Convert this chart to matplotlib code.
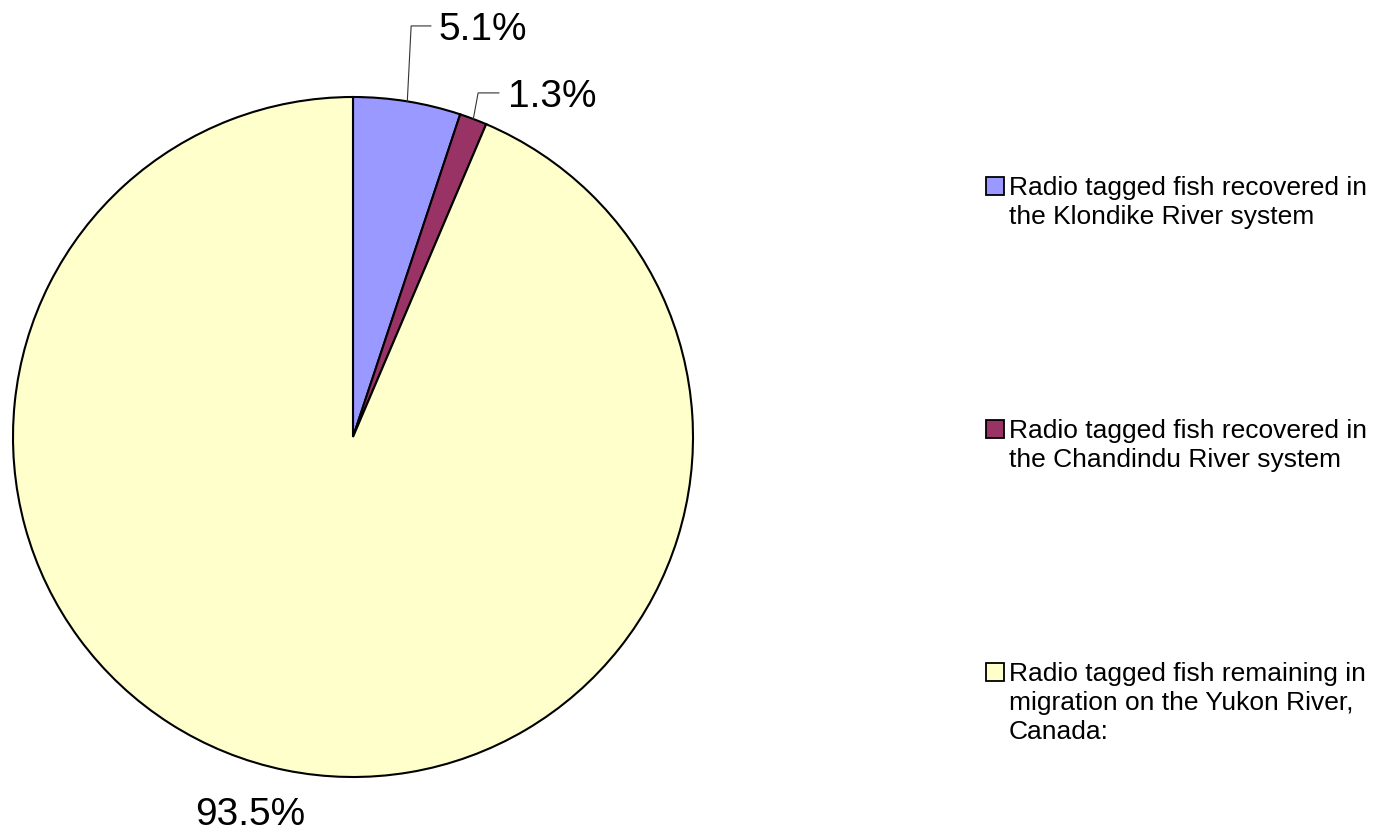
import numpy as np
import matplotlib.pyplot as plt
from matplotlib.patches import Rectangle

plt.rcParams['font.family'] = ['Liberation Sans', 'DejaVu Sans']

labels = ["Radio tagged fish recovered in\nthe Klondike River system",
          "Radio tagged fish recovered in\nthe Chandindu River system",
          "Radio tagged fish remaining in\nmigration on the Yukon River,\nCanada:"]
values = [5.1, 1.3, 93.5]
colors = ['#9999FF', '#993366', '#FFFFCC']

W, H = 1381, 835
fig = plt.figure(figsize=(W / 100, H / 100), dpi=100)
cx, cy, r = 353, 437, 340
ax = fig.add_axes([(cx - r) / W, (H - cy - r) / H, 2 * r / W, 2 * r / H])

wedges, _ = ax.pie(values, colors=colors, startangle=90, counterclock=False,
                   radius=1, wedgeprops=dict(edgecolor='black', linewidth=1.5))
ax.set_xlim(-1, 1)
ax.set_ylim(-1, 1)
ax.axis('off')

# label placement: (text x, baseline y, elbow x, elbow y, line end x)
lab_pos = [(0.25, 1.168, 0.171, 1.209, 0.229),
           (0.456, 0.97, 0.368, 1.012, 0.429),
           None]
for w, v, lp in zip(wedges, values, lab_pos):
    ang = np.deg2rad((w.theta1 + w.theta2) / 2)
    px, py = np.cos(ang), np.sin(ang)
    if lp is None:
        ax.text(-0.303, -1.141, f"{v:.1f}%", fontsize=28, ha='center', va='baseline')
        continue
    tx, ty, ex, ey, ex2 = lp
    ax.plot([px, ex, ex2], [py, ey, ey], color='#333333', lw=0.8, clip_on=False)
    ax.text(tx, ty, f"{v:.1f}%", fontsize=28, ha='left', va='baseline')

# legend (first-line baselines in pixels)
base_y = [195, 438, 681]
line_h = 29
for lab, col, y in zip(labels, colors, base_y):
    fig.patches.append(Rectangle((986 / W, (H - y) / H), 18 / W, 18 / H,
                                 transform=fig.transFigure, facecolor=col,
                                 edgecolor='black', linewidth=1.3))
    n = lab.count('\n')
    fig.text(1009 / W, (H - y - n * line_h) / H, lab, fontsize=19, ha='left',
             va='baseline', linespacing=1.26)

fig.savefig('out.png', dpi=100)
